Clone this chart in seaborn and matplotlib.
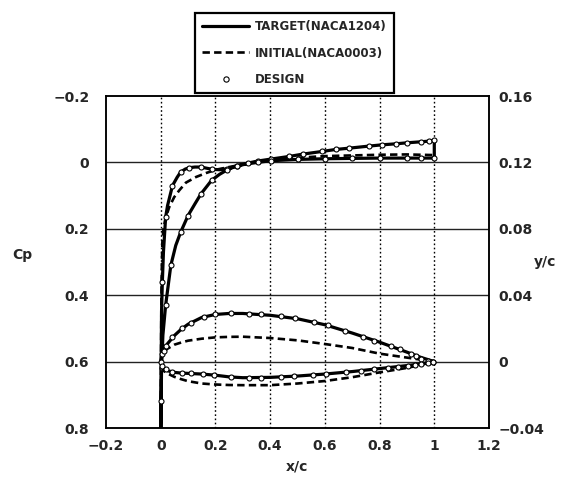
import matplotlib
matplotlib.use("Agg")
import matplotlib.pyplot as plt
import pandas as pd
import seaborn as sns
from matplotlib.lines import Line2D

# ---------------- data ----------------
# Pressure coefficient, TARGET (NACA1204)
tgt_up_x = [0.0, 0.001, 0.003, 0.006, 0.01, 0.018, 0.025, 0.043, 0.06, 0.073, 0.09, 0.104,
            0.125, 0.147, 0.165, 0.189, 0.215, 0.244, 0.28, 0.32, 0.354, 0.403, 0.47, 0.52,
            0.59, 0.64, 0.69, 0.76, 0.81, 0.86, 0.9, 0.95, 0.98, 1.0]
tgt_up_cp = [0.85, 0.72, 0.45, 0.36, 0.27, 0.165, 0.13, 0.07, 0.045, 0.029, 0.02, 0.016,
             0.014, 0.014, 0.017, 0.021, 0.022, 0.019, 0.01, 0.002, -0.004, -0.01, -0.018, -0.025,
             -0.033, -0.039, -0.043, -0.049, -0.053, -0.056, -0.059, -0.062, -0.064, -0.066]
tgt_lo_x = [0.0, 0.003, 0.008, 0.018, 0.037, 0.055, 0.073, 0.1, 0.125, 0.147, 0.186, 0.215,
            0.244, 0.28, 0.32, 0.354, 0.403, 0.5, 0.6, 0.7, 0.8, 0.9, 1.0]
tgt_lo_cp = [0.85, 0.62, 0.52, 0.43, 0.31, 0.25, 0.21, 0.16, 0.125, 0.095, 0.054, 0.036,
             0.022, 0.01, 0.004, 0.0, -0.005, -0.009, -0.011, -0.012, -0.013, -0.013, -0.013]

# Pressure coefficient, INITIAL (NACA0003, symmetric -> one curve)
ini_x = [0.0, 0.001, 0.003, 0.006, 0.01, 0.019, 0.031, 0.049, 0.068, 0.092, 0.129, 0.166,
         0.202, 0.25, 0.3, 0.35, 0.4, 0.5, 0.6, 0.7, 0.8, 0.9, 1.0]
ini_cp = [0.85, 0.6, 0.36, 0.24, 0.2, 0.165, 0.135, 0.105, 0.084, 0.061, 0.044, 0.032,
          0.022, 0.014, 0.006, -0.002, -0.007, -0.014, -0.019, -0.021, -0.023, -0.024, -0.022]

# Pressure coefficient, DESIGN points
des_cp_up_x = [0.001, 0.006, 0.018, 0.043, 0.073, 0.104, 0.147, 0.189, 0.244, 0.28, 0.32,
               0.354, 0.403, 0.47, 0.52, 0.59, 0.64, 0.69, 0.76, 0.81, 0.86, 0.9, 0.95, 0.98, 1.0]
des_cp_up = [0.72, 0.36, 0.165, 0.07, 0.029, 0.016, 0.014, 0.021, 0.019, 0.01, 0.002,
             -0.004, -0.01, -0.018, -0.025, -0.033, -0.039, -0.043, -0.049, -0.053, -0.056,
             -0.059, -0.062, -0.064, -0.066]
des_cp_lo_x = [0.003, 0.018, 0.037, 0.073, 0.1, 0.147, 0.186, 0.244, 0.28, 0.354, 0.403,
               0.5, 0.6, 0.7, 0.8, 0.9, 0.95, 1.0]
des_cp_lo = [0.62, 0.43, 0.31, 0.21, 0.16, 0.095, 0.054, 0.022, 0.01, 0.0, -0.005,
             -0.009, -0.011, -0.012, -0.013, -0.013, -0.013, -0.013]

# Airfoil shapes (y/c)
shp_x = [0.0, 0.005, 0.0125, 0.025, 0.05, 0.075, 0.1, 0.15, 0.2, 0.25, 0.3, 0.4, 0.5,
         0.6, 0.7, 0.8, 0.9, 0.95, 1.0]
tgt_yu = [0.0, 0.0043, 0.0072, 0.0108, 0.0157, 0.0195, 0.0225, 0.0266, 0.0284, 0.029,
          0.029, 0.0279, 0.0258, 0.0222, 0.0172, 0.0117, 0.0057, 0.0026, 0.0]
tgt_yl = [0.0, -0.003, -0.0042, -0.0055, -0.0065, -0.0069, -0.0071, -0.0075, -0.0082,
          -0.0092, -0.0097, -0.0095, -0.0087, -0.0075, -0.006, -0.0042, -0.0024, -0.0014, 0.0]
ini_yu = [0.0, 0.004, 0.0062, 0.0078, 0.0102, 0.0115, 0.0126, 0.0138, 0.0146, 0.0149,
          0.015, 0.0142, 0.0128, 0.0106, 0.0082, 0.0048, 0.0024, 0.0012, 0.0]
ini_yl = [0.0, -0.004, -0.0058, -0.0072, -0.0092, -0.0106, -0.0118, -0.0132, -0.0138,
          -0.0141, -0.0142, -0.0142, -0.0132, -0.0117, -0.0094, -0.0065, -0.0038, -0.002, 0.0]

des_up_x = [0.0, 0.005, 0.012, 0.018, 0.043, 0.079, 0.11, 0.159, 0.199, 0.256, 0.323, 0.366,
            0.44, 0.49, 0.561, 0.61, 0.672, 0.739, 0.781, 0.842, 0.873, 0.916, 0.934, 0.952,
            0.977, 0.995]
des_yu = [0.0, 0.0045, 0.0066, 0.0096, 0.0149, 0.0201, 0.0235, 0.0269, 0.0285, 0.029,
          0.0288, 0.0285, 0.0275, 0.0262, 0.0237, 0.022, 0.0185, 0.0151, 0.0127, 0.0096,
          0.0076, 0.0046, 0.0032, 0.0018, 0.0005, 0.0]
des_lo_x = [0.006, 0.018, 0.043, 0.079, 0.11, 0.153, 0.195, 0.256, 0.324, 0.366, 0.44,
            0.488, 0.555, 0.604, 0.678, 0.733, 0.781, 0.83, 0.867, 0.903, 0.928, 0.952,
            0.977, 0.995]
des_yl = [-0.0024, -0.0044, -0.0062, -0.0068, -0.007, -0.0075, -0.0081, -0.0093, -0.0098,
          -0.0098, -0.0092, -0.0088, -0.0079, -0.0074, -0.0063, -0.0054, -0.0047, -0.0039,
          -0.0032, -0.0024, -0.0018, -0.0012, -0.0006, -0.0002]

x_ticks = [-0.2, 0, 0.2, 0.4, 0.6, 0.8, 1, 1.2]
x_labels = ["\u22120.2", "0", "0.2", "0.4", "0.6", "0.8", "1", "1.2"]
cp_ticks = [-0.2, 0, 0.2, 0.4, 0.6, 0.8]
cp_labels = ["\u22120.2", "0", "0.2", "0.4", "0.6", "0.8"]
yc_ticks = [-0.04, 0, 0.04, 0.08, 0.12, 0.16]
yc_labels = ["\u22120.04", "0", "0.04", "0.08", "0.12", "0.16"]
legend_labels = ["TARGET(NACA1204)", "INITIAL(NACA0003)", "DESIGN"]

# ---------------- build tables ----------------
tgt_cp_df = pd.DataFrame({
    "x": tgt_up_x[::-1] + tgt_lo_x + [tgt_up_x[-1]],
    "v": tgt_up_cp[::-1] + tgt_lo_cp + [tgt_up_cp[-1]],
})
ini_cp_df = pd.DataFrame({"x": ini_x, "v": ini_cp})
des_cp_df = pd.DataFrame({"x": des_cp_up_x + des_cp_lo_x, "v": des_cp_up + des_cp_lo})
tgt_shp_df = pd.DataFrame({"x": shp_x[::-1] + shp_x, "v": tgt_yu[::-1] + tgt_yl})
ini_shp_df = pd.DataFrame({"x": shp_x[::-1] + shp_x, "v": ini_yu[::-1] + ini_yl})
des_shp_df = pd.DataFrame({"x": des_up_x + des_lo_x, "v": des_yu + des_yl})

# ---------------- style ----------------
sns.set_theme(style="white")
plt.rcParams["font.family"] = ["DejaVu Sans"]
plt.rcParams["font.weight"] = "bold"

W, H = 570, 487
fig = plt.figure(figsize=(W / 100, H / 100), dpi=100)
L, R, T, B = 106, 489, 96, 428
ax = fig.add_axes([L / W, 1 - B / H, (R - L) / W, (B - T) / H])
ax2 = ax.twinx()

lw_solid = 2.3
lw_dash = 1.9
dash = (0, (2.8, 1.6))
msize = 13

# Cp curves
sns.lineplot(data=tgt_cp_df, x="x", y="v", sort=False, estimator=None, ax=ax,
             color="black", lw=lw_solid, zorder=3)
sns.lineplot(data=ini_cp_df, x="x", y="v", sort=False, estimator=None, ax=ax,
             color="black", lw=lw_dash, linestyle=dash, zorder=3)
sns.scatterplot(data=des_cp_df, x="x", y="v", ax=ax, marker="o", s=msize,
                facecolor="white", edgecolor="black", linewidth=0.8, zorder=4)

# shape curves
sns.lineplot(data=tgt_shp_df, x="x", y="v", sort=False, estimator=None, ax=ax2,
             color="black", lw=lw_solid, zorder=3)
sns.lineplot(data=ini_shp_df, x="x", y="v", sort=False, estimator=None, ax=ax2,
             color="black", lw=lw_dash, linestyle=dash, zorder=3)
sns.scatterplot(data=des_shp_df, x="x", y="v", ax=ax2, marker="o", s=msize,
                facecolor="white", edgecolor="black", linewidth=0.8, zorder=4)

ax.set_xlim(-0.2, 1.2)
ax.set_ylim(0.8, -0.2)
ax2.set_ylim(-0.04, 0.16)

fs = 10
ax.set_xticks(x_ticks)
ax.set_xticklabels(x_labels, fontsize=fs, fontweight="bold")
ax.set_yticks(cp_ticks)
ax.set_yticklabels(cp_labels, fontsize=fs, fontweight="bold")
ax2.set_yticks(yc_ticks)
ax2.set_yticklabels(yc_labels, fontsize=fs, fontweight="bold")
ax.tick_params(axis="x", length=0, pad=8)
ax.tick_params(axis="y", length=0, pad=12)
ax2.tick_params(axis="y", length=0, pad=7)
ax.set_xlabel("")
ax.set_ylabel("")
ax2.set_ylabel("")

ax.grid(False)
ax2.grid(False)
for yv in cp_ticks[1:-1]:
    ax.axhline(yv, color="#222222", lw=1.0, zorder=1)
for xv in x_ticks[1:-1]:
    ax.axvline(xv, color="black", lw=1.0, linestyle=(0, (1.2, 1.8)), zorder=1)

for a in (ax, ax2):
    for s in a.spines.values():
        s.set_color("black")
        s.set_linewidth(1.1)

fig.text(22 / W, 1 - 255 / H, "Cp", fontsize=fs, fontweight="bold", ha="center", va="center")
fig.text(545 / W, 1 - 262 / H, "y/c", fontsize=fs, fontweight="bold", ha="center", va="center")
fig.text(297 / W, 1 - 466 / H, "x/c", fontsize=fs, fontweight="bold", ha="center", va="center")

handles = [
    Line2D([], [], color="black", lw=lw_solid),
    Line2D([], [], color="black", lw=lw_dash, linestyle=dash),
    Line2D([], [], color="black", lw=0, marker="o", markersize=3.8,
           markerfacecolor="white", markeredgecolor="black", markeredgewidth=0.8),
]
leg = fig.legend(handles, legend_labels, loc="upper left",
                 bbox_to_anchor=(189 / W, 1 - 7 / H), frameon=True, fancybox=False,
                 edgecolor="black", facecolor="white", framealpha=1,
                 prop={"size": 8.5, "weight": "bold"}, handlelength=4.0,
                 labelspacing=1.15, borderpad=0.6, handletextpad=0.5)
leg.get_frame().set_linewidth(1.6)

fig.savefig("out.png", dpi=100)
